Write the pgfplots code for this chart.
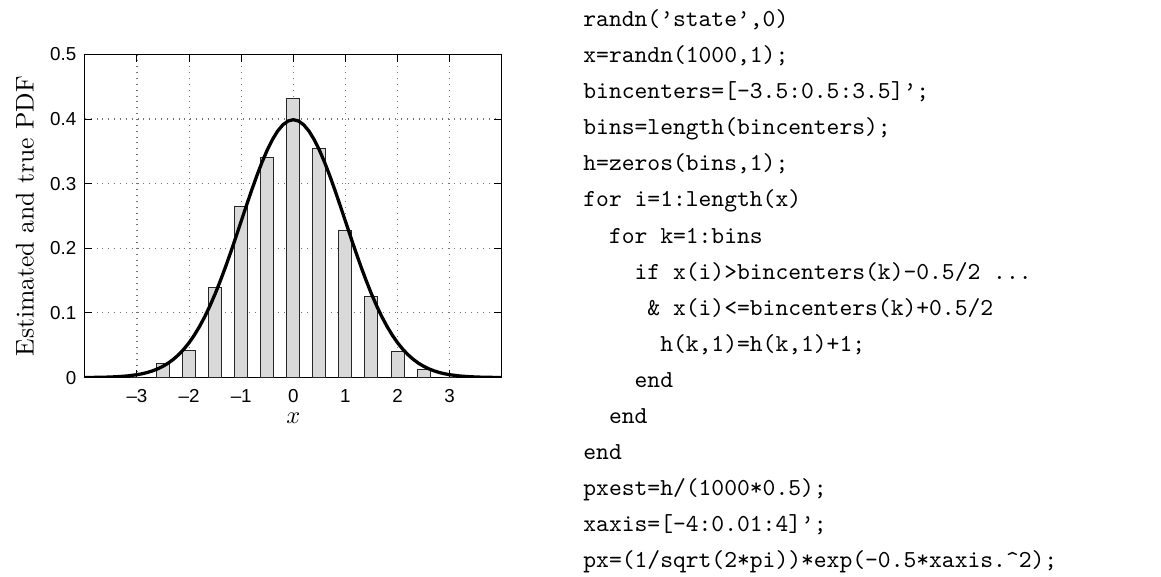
\documentclass[border=0pt]{standalone}
\usepackage{fontspec}
\newfontfamily\tickfont{Liberation Sans}
\usepackage{pgfplots}
\pgfplotsset{compat=1.18}
\newcommand\codefont{\ttfamily\fontsize{10}{12}\selectfont}
\newcommand\cl[3]{\node[anchor=base west,inner sep=0pt,font=\codefont] at ({239pt+#1*5.25pt},{225.3pt-#2*14.79pt}) {#3};}
\begin{document}
\begin{tikzpicture}
\path[use as bounding box] (0,0) rectangle (476pt,236.2pt);
\begin{axis}[
  at={(34.8pt,81.4pt)}, anchor=south west,
  scale only axis, width=170.9pt, height=132.5pt,
  xmin=-4, xmax=4, ymin=0, ymax=0.5,
  xtick={-3,-2,-1,0,1,2,3},
  xticklabels={\textendash3,\textendash2,\textendash1,0,1,2,3},
  ytick={0,0.1,0.2,0.3,0.4,0.5},
  yticklabels={0,0.1,0.2,0.3,0.4,0.5},
  grid=major,
  major grid style={dotted, black!55, line width=0.45pt},
  tick align=inside, major tick length=3pt,
  tick style={black, line width=0.4pt},
  axis line style={line width=0.5pt},
  ticklabel style={font=\tickfont\fontsize{7.7}{9}\selectfont},
  xticklabel style={anchor=center, inner sep=0pt, yshift=-7.5pt},
  xlabel={$x$},
  xlabel style={at={(axis description cs:0.5,0)}, anchor=center, inner sep=0pt, yshift=-16.6pt},
  ylabel={Estimated and true PDF},
  ylabel style={at={(axis description cs:-0.144,0.5)}, anchor=center, inner sep=0pt, font=\fontsize{10.5}{12}\selectfont},
]
\addplot[ybar, bar width=0.25, fill=black!15, draw=black!85, line width=0.4pt] coordinates {
(-3.5,0) (-3,0) (-2.5,0.022) (-2,0.042) (-1.5,0.140) (-1,0.264) (-0.5,0.340)
(0,0.432) (0.5,0.354) (1,0.228) (1.5,0.126) (2,0.040) (2.5,0.012) (3,0) (3.5,0)
};
\addplot[black, line width=1.35pt, line join=round, mark=none] coordinates {
(-4.0,0.000134) (-3.8,0.000292) (-3.6,0.000612) (-3.4,0.001232) (-3.2,0.002384)
(-3.0,0.004432) (-2.9,0.005953) (-2.8,0.007915) (-2.7,0.010421) (-2.6,0.013583)
(-2.5,0.017528) (-2.4,0.022395) (-2.3,0.028327) (-2.2,0.035475) (-2.1,0.043984)
(-2.0,0.053991) (-1.9,0.065616) (-1.8,0.078950) (-1.7,0.094049) (-1.6,0.110921)
(-1.5,0.129518) (-1.4,0.149727) (-1.3,0.171369) (-1.2,0.194186) (-1.1,0.217852)
(-1.0,0.241971) (-0.9,0.266085) (-0.8,0.289692) (-0.7,0.312254) (-0.6,0.333225)
(-0.5,0.352065) (-0.4,0.368270) (-0.3,0.381388) (-0.2,0.391043) (-0.1,0.396953)
(0.0,0.398942)
(0.1,0.396953) (0.2,0.391043) (0.3,0.381388) (0.4,0.368270) (0.5,0.352065)
(0.6,0.333225) (0.7,0.312254) (0.8,0.289692) (0.9,0.266085) (1.0,0.241971)
(1.1,0.217852) (1.2,0.194186) (1.3,0.171369) (1.4,0.149727) (1.5,0.129518)
(1.6,0.110921) (1.7,0.094049) (1.8,0.078950) (1.9,0.065616) (2.0,0.053991)
(2.1,0.043984) (2.2,0.035475) (2.3,0.028327) (2.4,0.022395) (2.5,0.017528)
(2.6,0.013583) (2.7,0.010421) (2.8,0.007915) (2.9,0.005953) (3.0,0.004432)
(3.2,0.002384) (3.4,0.001232) (3.6,0.000612) (3.8,0.000292) (4.0,0.000134)
};
\end{axis}
\cl{0}{0}{randn(\textquoteright state\textquoteright,0)}
\cl{0}{1}{x=randn(1000,1);}
\cl{0}{2}{bincenters=[-3.5:0.5:3.5]\textquoteright;}
\cl{0}{3}{bins=length(bincenters);}
\cl{0}{4}{h=zeros(bins,1);}
\cl{0}{5}{for i=1:length(x)}
\cl{2}{6}{for k=1:bins}
\cl{4}{7}{if x(i)>bincenters(k)-0.5/2 ...}
\cl{5}{8}{\& x(i)<=bincenters(k)+0.5/2}
\cl{6}{9}{h(k,1)=h(k,1)+1;}
\cl{4}{10}{end}
\cl{2}{11}{end}
\cl{0}{12}{end}
\cl{0}{13}{pxest=h/(1000*0.5);}
\cl{0}{14}{xaxis=[-4:0.01:4]\textquoteright;}
\cl{0}{15}{px=(1/sqrt(2*pi))*exp(-0.5*xaxis.\textasciicircum2);}
\end{tikzpicture}
\end{document}
